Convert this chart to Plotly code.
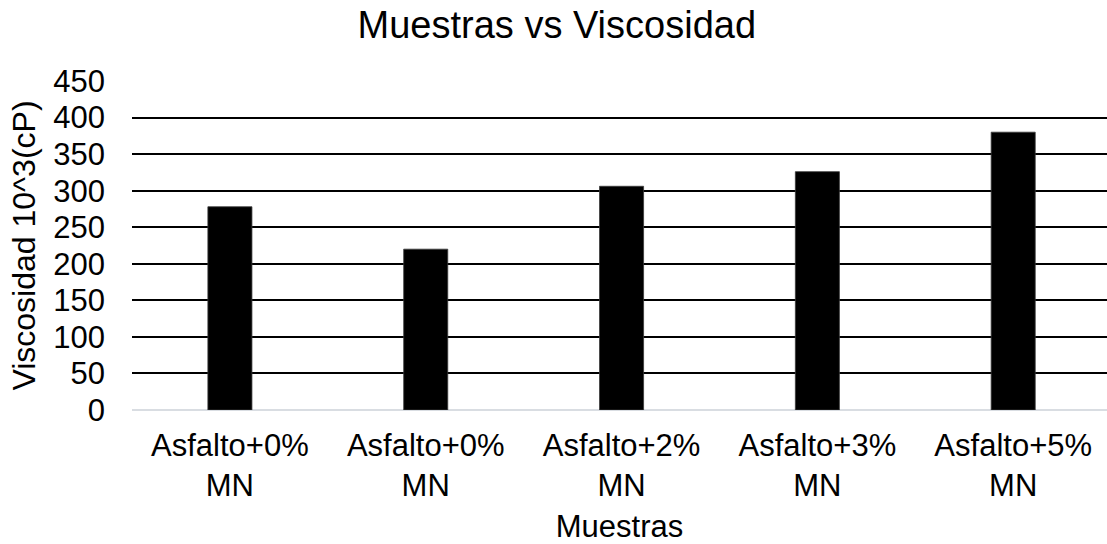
import plotly.graph_objects as go

categories = ["Asfalto+0%<br>MN", "Asfalto+0%<br>MN", "Asfalto+2%<br>MN", "Asfalto+3%<br>MN", "Asfalto+5%<br>MN"]
values = [278, 220, 306, 326, 380]
y_ticks = [0, 50, 100, 150, 200, 250, 300, 350, 400, 450]

positions = list(range(len(categories)))
FONT = "Arial, Liberation Sans, sans-serif"

fig = go.Figure()
fig.add_trace(go.Bar(
    x=positions, y=values, width=0.225,
    marker=dict(color="#000000", line=dict(color="#3a3a3a", width=0.8)),
    showlegend=False, hoverinfo="skip",
))

fig.update_layout(
    width=1107, height=544,
    margin=dict(l=132, r=0, t=81, b=134),
    paper_bgcolor="white", plot_bgcolor="white",
    font=dict(family=FONT, color="black", size=31),
    title=dict(text="Muestras vs Viscosidad", x=0.503, xref="container", xanchor="center",
               y=1 - 25 / 544, yref="container", yanchor="middle",
               font=dict(family=FONT, size=38, color="black")),
    bargap=0.775,
)
fig.update_xaxes(
    range=[-0.5, 4.479], tickvals=positions, ticktext=categories,
    showgrid=False, zeroline=False, showline=False, ticks="",
    ticklabelstandoff=14,
    tickfont=dict(size=31, color="black"),
    title=dict(text="Muestras", font=dict(size=31, color="black"), standoff=14),
)
fig.update_yaxes(
    range=[0, 450], tickvals=y_ticks, ticktext=[str(v) for v in y_ticks],
    showgrid=True, gridcolor="#000000", gridwidth=1.8,
    zeroline=True, zerolinecolor="#d9dde2", zerolinewidth=1.5,
    showline=False, ticks="", ticklabelstandoff=26,
    tickfont=dict(size=31, color="black"),
    title=dict(text="Viscosidad 10^3(cP)", font=dict(size=32, color="black"), standoff=8),
)

fig.write_html("out.html")
